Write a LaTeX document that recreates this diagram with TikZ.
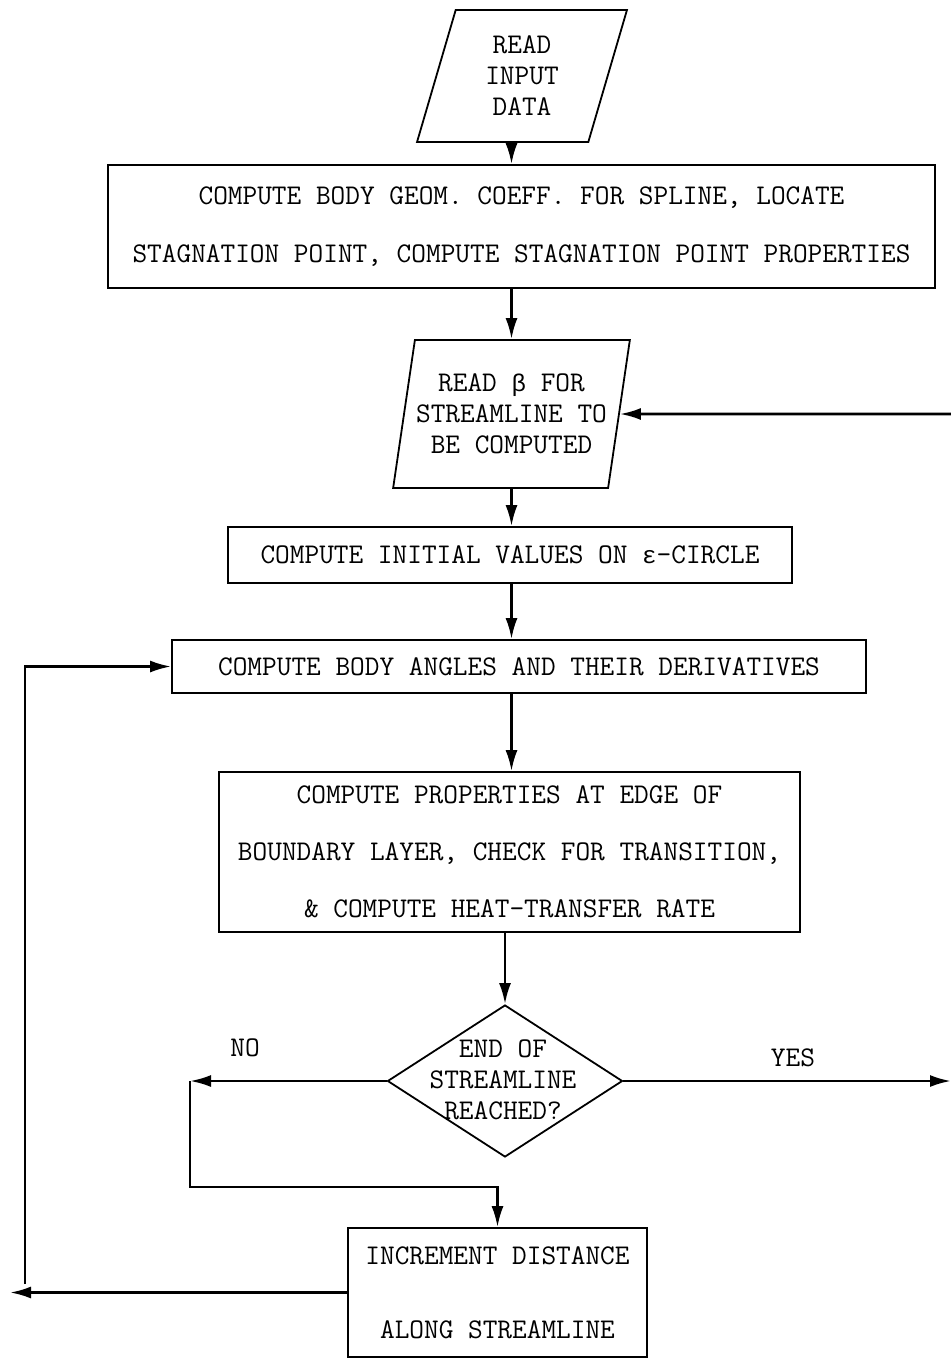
\documentclass[tikz,border=0pt]{standalone}
\usepackage{fontspec}
\newfontfamily\greek[Scale=0.85]{Liberation Mono}
\usetikzlibrary{arrows.meta, shapes.geometric}

\begin{document}
\begin{tikzpicture}[x=1pt, y=-1pt,
  every node/.style={font=\fontsize{28.5}{31}\selectfont\ttfamily, align=center},
  box/.style={draw, line width=1.8pt, inner sep=0pt},
  slant/.style={draw, line width=1.8pt, trapezium, trapezium left angle=75,
    trapezium right angle=105, trapezium stretches=true, inner sep=0pt},
  choice/.style={draw, line width=1.8pt, diamond, inner sep=0pt},
  flow/.style={line width=2.6pt, -{Latex[length=21pt, width=12pt]}}]
\useasboundingbox (0,0) rectangle (951,1361);

\node[slant, minimum width=210pt, minimum height=132pt] (read) at (522,76) {READ\\INPUT\\DATA};
\node[box, minimum width=827pt, minimum height=123pt] (body) at (521.5,226.5)
  {COMPUTE BODY GEOM. COEFF. FOR SPLINE, LOCATE\\[27pt]STAGNATION POINT, COMPUTE STAGNATION POINT PROPERTIES};
\node[slant, minimum width=237pt, minimum height=148pt] (beta) at (511.5,414) {READ {\greek β} FOR\\STREAMLINE TO\\BE COMPUTED};
\node[box, minimum width=564pt, minimum height=56pt] (init) at (510,555) {COMPUTE INITIAL VALUES ON {\greek ε}-CIRCLE};
\node[box, minimum width=694pt, minimum height=53pt] (angles) at (519,666.5) {COMPUTE BODY ANGLES AND THEIR DERIVATIVES};
\node[box, minimum width=581pt, minimum height=160pt] (edge) at (509.5,852)
  {COMPUTE PROPERTIES AT EDGE OF\\[26pt]BOUNDARY LAYER, CHECK FOR TRANSITION,\\[26pt]\& COMPUTE HEAT-TRANSFER RATE};
\node[choice, minimum width=235pt, minimum height=152pt] (end) at (505,1081) {};
\node (endtext) at (503,1080) {END OF\\STREAMLINE\\REACHED?};
\node[box, minimum width=299pt, minimum height=129pt] (incr) at (497.5,1292.5)
  {INCREMENT DISTANCE\\[43pt]ALONG STREAMLINE};

\node (nolabel) at (245,1048) {NO};
\node (yeslabel) at (793,1058) {YES};

\coordinate (no) at (190,1081);
\coordinate (join) at (190,1187);
\coordinate (yes) at (951,1081);
\coordinate (ret) at (10,1292.5);
\coordinate (up) at (25,1284);
\coordinate (back) at (951,414);

\draw[flow] (read.south -| beta) -- (body.north -| beta);
\draw[flow] (body.south -| beta) -- (beta.north);
\draw[flow] (beta.south) -- (init.north -| beta);
\draw[flow] (init.south -| beta) -- (angles.north -| beta);
\draw[flow] (angles.south -| beta) -- (edge.north -| beta);
\draw[flow] (edge.south -| end) -- (end.north);

\draw[flow] (end.west) -- (no);
\draw[flow] (no) -- (join) -| (incr.north);
\draw[flow] (end.east) -- (yes);

\draw[flow] (incr.west) -- (ret);
\draw[flow] (up) |- (angles.west);
\draw[flow] (back) -- (beta.east);
\end{tikzpicture}
\end{document}
